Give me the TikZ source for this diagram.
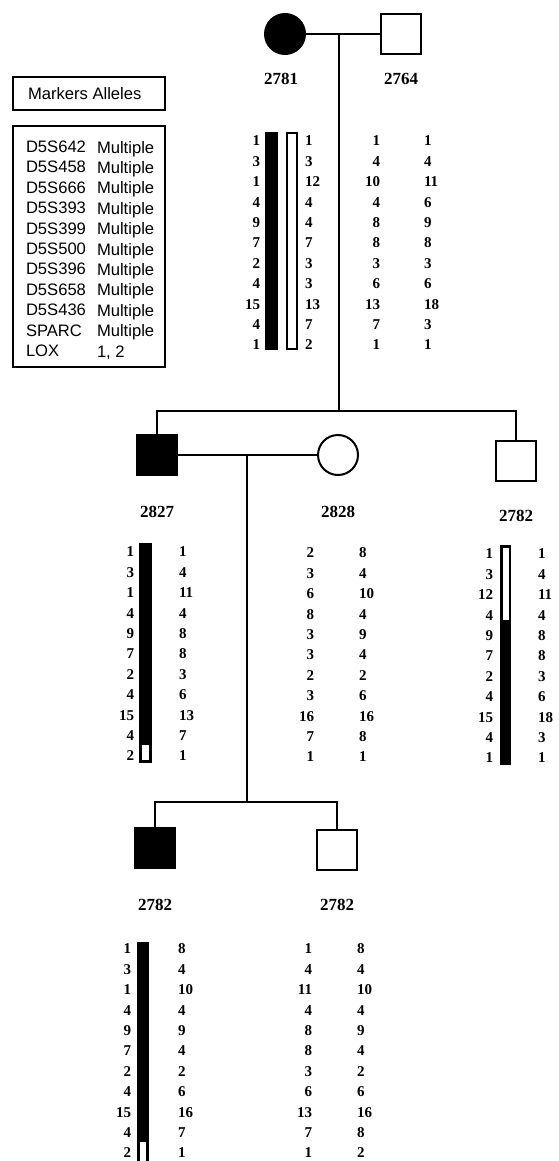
\documentclass[tikz,border=0pt]{standalone}
\usepackage{fontspec}
\setmainfont{Liberation Serif}
\newfontfamily\legendfont{Liberation Sans}
\usetikzlibrary{positioning}

\begin{document}
\begin{tikzpicture}[x=0.5pt, y=-0.5pt, line width=1pt,
	male/.style={rectangle, draw, minimum size=20pt, inner sep=0pt},
	female/.style={circle, draw, minimum size=20pt, inner sep=0pt},
	affected/.style={fill=black},
	idnum/.style={font=\fontsize{8.5}{9}\selectfont\bfseries, inner sep=0pt},
	lcol/.style={anchor=north east, align=right, inner sep=0pt, font=\fontsize{7.5}{10.2}\selectfont\bfseries},
	rcol/.style={anchor=north west, align=left, inner sep=0pt, font=\fontsize{7.5}{10.2}\selectfont\bfseries},
	legend/.style={anchor=north west, align=left, inner sep=0pt, font=\legendfont\fontsize{8.3}{10.2}\selectfont}]
			\useasboundingbox (0,0) rectangle (558,1161);
			
			% legend
			\draw (13,77) rectangle (165,110);
			\node (hdr) [legend, anchor=west] at (27,94) {Markers Alleles};
			\draw (13,126) rectangle (165,367);
			\node (mk) [legend] at (25,140) {D5S642\\D5S458\\D5S666\\D5S393\\D5S399\\D5S500\\D5S396\\D5S658\\D5S436\\SPARC\\LOX};
			\node (al) [legend] at (96,140) {Multiple\\Multiple\\Multiple\\Multiple\\Multiple\\Multiple\\Multiple\\Multiple\\Multiple\\Multiple\\1, 2};
			
			% generation I
			\node (f2781) [female, affected] at (285,34) {};
			\node (m2764) [male] at (401,34) {};
			\node (n2781) [idnum, below=8.5pt of f2781, xshift=-2pt] {2781};
			\node (n2764) [idnum, below=8.5pt of m2764] {2764};
			\coordinate (c1) at (339,34);
			\coordinate (s1) at (339,411);
			\draw (f2781) -- (m2764);
			\draw (c1) -- (s1);
			
			\fill (265,132) rectangle (278,350);
			\draw [fill=white] (287,133) rectangle (297,349);
			\node (a2781) [lcol] at (261,135) {1\\3\\1\\4\\9\\7\\2\\4\\15\\4\\1};
			\node (b2781) [rcol] at (304,135) {1\\3\\12\\4\\4\\7\\3\\3\\13\\7\\2};
			\node (a2764) [lcol] at (381,135) {1\\4\\10\\4\\8\\8\\3\\6\\13\\7\\1};
			\node (b2764) [rcol] at (423,135) {1\\4\\11\\6\\9\\8\\3\\6\\18\\3\\1};
			
			% generation II
			\node (m2827) [male, affected] at (157,455) {};
			\node (f2828) [female] at (338,455) {};
			\node (m2782) [male] at (516,461) {};
			\node (n2827) [idnum, below=14.5pt of m2827] {2827};
			\node (n2828) [idnum, below=14.5pt of f2828] {2828};
			\node (n2782) [idnum, below=13.5pt of m2782] {2782};
			\draw (m2827) |- (s1) -| (m2782);
			\draw (m2827) -- (f2828);
			\coordinate (c2) at (247,455);
			\coordinate (s2) at (247,802);
			\draw (c2) -- (s2);
			
			\fill (139,543) rectangle (152,763);
			\fill [white] (142,745) rectangle (149,760);
			\node (a2827) [lcol] at (135,546) {1\\3\\1\\4\\9\\7\\2\\4\\15\\4\\2};
			\node (b2827) [rcol] at (178,546) {1\\4\\11\\4\\8\\8\\3\\6\\13\\7\\1};
			\node (a2828) [lcol] at (315,547) {2\\3\\6\\8\\3\\3\\2\\3\\16\\7\\1};
			\node (b2828) [rcol] at (358,547) {8\\4\\10\\4\\9\\4\\2\\6\\16\\8\\1};
			\fill (500,545) rectangle (511,765);
			\fill [white] (502.5,547.5) rectangle (508.5,620);
			\node (a2782) [lcol] at (494,548) {1\\3\\12\\4\\9\\7\\2\\4\\15\\4\\1};
			\node (b2782) [rcol] at (537,548) {1\\4\\11\\4\\8\\8\\3\\6\\18\\3\\1};
			
			% generation III
			\node (m2782a) [male, affected] at (155,848) {};
			\node (m2782b) [male] at (337,850) {};
			\node (n2782a) [idnum, below=14.5pt of m2782a] {2782};
			\node (n2782b) [idnum, below=13.5pt of m2782b] {2782};
			\draw (m2782a) |- (s2) -| (m2782b);
			
			\fill (137,942) rectangle (149,1161);
			\fill [white] (140,1142) rectangle (146,1161);
			\node (a2782a) [lcol] at (132,943) {1\\3\\1\\4\\9\\7\\2\\4\\15\\4\\2};
			\node (b2782a) [rcol] at (177,943) {8\\4\\10\\4\\9\\4\\2\\6\\16\\7\\1};
			\node (a2782b) [lcol] at (313,943) {1\\4\\11\\4\\8\\8\\3\\6\\13\\7\\1};
			\node (b2782b) [rcol] at (356,943) {8\\4\\10\\4\\9\\4\\2\\6\\16\\8\\2};
		\end{tikzpicture}
\end{document}
